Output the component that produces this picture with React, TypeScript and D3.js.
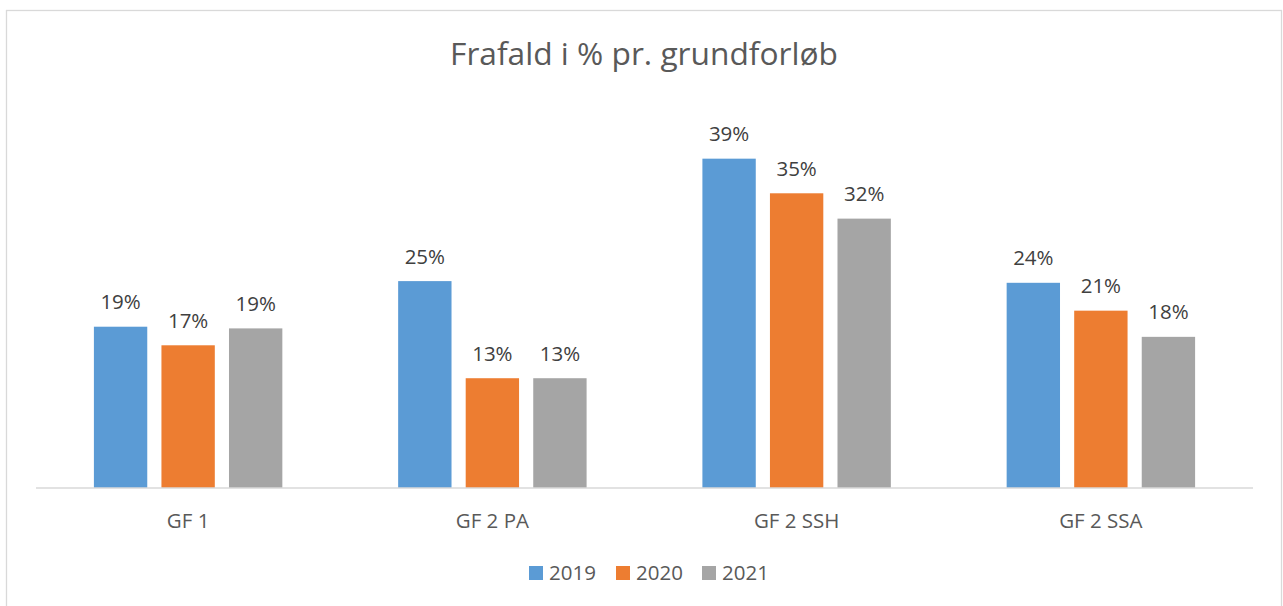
import React from "react";
import * as d3 from "d3";

const categories = ["GF 1", "GF 2 PA", "GF 2 SSH", "GF 2 SSA"];
const seriesNames = ["2019", "2020", "2021"];
const values2019 = [0.191, 0.245, 0.39, 0.243];
const values2020 = [0.169, 0.13, 0.349, 0.21];
const values2021 = [0.189, 0.13, 0.319, 0.179];
const seriesColors = ["#5B9BD5", "#ED7D31", "#A5A5A5"];
const title = "Frafald i % pr. grundforløb";

const W = 1283;
const H = 606;
const FONT = "'Open Sans', Lato, sans-serif";

export default function App() {
  const seriesValues = [values2019, values2020, values2021];
  const x0 = d3.scaleBand<string>().domain(categories).range([36, 1253]).padding(0);
  const y = d3.scaleLinear().domain([0, 0.45]).range([488, 108]);
  const step = x0.bandwidth() * 0.222;
  const fmt = d3.format(".0%");

  const legendX = [529, 616, 702];

  return (
    <svg width={W} height={H} style={{ position: "absolute", left: 0, top: 0, background: "#fff" }}>
      <rect x={6.5} y={10.5} width={1275} height={640} fill="#fff" stroke="#d9d9d9" strokeWidth={1.3} />
      <text x={644} y={65} textAnchor="middle" fontFamily={FONT} fontSize={31.7} fill="#595959" fontWeight={400}>
        {title}
      </text>
      {categories.map((c, ci) => {
        const cx = (x0(c) as number) + x0.bandwidth() / 2;
        const x1 = d3
          .scaleBand<string>()
          .domain(seriesNames)
          .range([cx - 1.5 * step, cx + 1.5 * step])
          .paddingInner(0.21)
          .paddingOuter(0.105);
        return (
          <g key={c}>
            {seriesNames.map((s, si) => {
              const v = seriesValues[si][ci];
              const bx = x1(s) as number;
              return (
                <g key={s}>
                  <rect x={bx} y={y(v)} width={x1.bandwidth()} height={y(0) - y(v)} fill={seriesColors[si]} />
                  <text
                    x={bx + x1.bandwidth() / 2}
                    y={y(v) - 17.5}
                    textAnchor="middle"
                    fontFamily={FONT}
                    fontSize={20.5}
                    fill="#404040"
                  >
                    {fmt(v)}
                  </text>
                </g>
              );
            })}
            <text x={cx} y={528} textAnchor="middle" fontFamily={FONT} fontSize={20.5} fill="#595959">
              {c}
            </text>
          </g>
        );
      })}
      <line x1={36} x2={1253} y1={488} y2={488} stroke="#d9d9d9" strokeWidth={1.5} />
      {seriesNames.map((s, si) => (
        <g key={s}>
          <rect x={legendX[si]} y={566} width={14} height={14} fill={seriesColors[si]} />
          <text x={legendX[si] + 20} y={580} fontFamily={FONT} fontSize={20.5} fill="#595959">
            {s}
          </text>
        </g>
      ))}
    </svg>
  );
}
